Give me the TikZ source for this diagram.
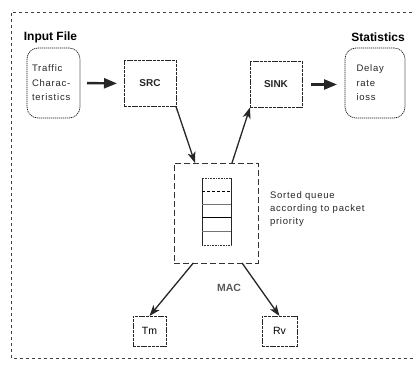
\documentclass[tikz,border=0pt]{standalone}
\usepackage{fontspec}
\setmainfont{Liberation Sans}
\usetikzlibrary{arrows.meta,calc}
\newfontfamily\smallfnt[LetterSpace=8]{Liberation Sans}
\begin{document}
\begin{tikzpicture}[x=1pt,y=-1pt,
  every node/.style={inner sep=0pt,outer sep=0pt},
  frame/.style={draw=black!75,line width=0.6pt,dash pattern=on 3pt off 3pt},
  plainbox/.style={draw=black!85,line width=0.7pt,dash pattern=on 3pt off 0.8pt,minimum width=52pt,minimum height=46pt,font=\bfseries\fontsize{10}{12}\selectfont,text=black!85},
  roundbox/.style={draw=black!90,line width=0.7pt,dash pattern=on 1.2pt off 0.8pt,rounded corners=11pt,align=left,font=\smallfnt\fontsize{9.5}{14.5}\selectfont,text=black!85},
  heading/.style={font=\bfseries\fontsize{12}{13}\selectfont},
  macbox/.style={draw=black!80,line width=0.7pt,dash pattern=on 6pt off 3pt},
  fatarrow/.style={line width=2.4pt,black!85,-{Triangle[length=13pt,width=10pt]}},
  thinarrow/.style={line width=1.3pt,black!85,-{Stealth[length=11pt,width=8pt,inset=3pt]}}
]
\useasboundingbox (0,0) rectangle (414,366);
% outer frame
\draw[frame] (418,12) -- (11,12) -- (11,358) -- (418,358);

% labels
\node[heading] (inlbl) at (50.5,37) {Input File};
\node[heading] (stlbl) at (378,37) {Statistics};

% rounded boxes
\node[roundbox,minimum width=53pt,minimum height=70pt,text width=43pt,inner xsep=5pt] (traffic) at (53.5,83) {Traffic\\Charac-\\teristics};
\node[roundbox,minimum width=60pt,minimum height=70pt,text width=37pt,inner xsep=11.5pt] (delay) at (375,83) {Delay\\rate\\ioss};

% SRC / SINK
\node[plainbox] (src) at (150,83.5) {SRC};
\node[plainbox] (sink) at (276,84.5) {SINK};

% MAC
\node[macbox,minimum width=84pt,minimum height=100pt] (mac) at (216,213) {};
\node[draw=black!80,line width=0.6pt,densely dotted,minimum width=29pt,minimum height=67pt] (queue) at (216.5,211.5) {};
\draw[black!85,line width=0.6pt] (queue.north west) -- (queue.south west) (queue.north east) -- (queue.south east);
\draw[black,line width=0.6pt,densely dashed] (202,191) -- (231,191);
\draw[black!55,line width=1pt] (202,204) -- (231,204);
\draw[black,line width=0.8pt] (202,217) -- (231,217);
\draw[black!55,line width=1pt] (202,231) -- (231,231);

\node[anchor=north west,align=left,font=\smallfnt\fontsize{9.5}{13}\selectfont,text=black!85] (sorted) at (270,192) {Sorted queue\\according to packet\\priority};

\node[font=\bfseries\fontsize{10.5}{12}\selectfont,text=black!65] (maclbl) at (229,288) {MAC};

% Tm / Rv
\node[plainbox,minimum width=33pt,minimum height=30pt,font=\fontsize{10.5}{12}\selectfont,text=black] (tm) at (149.5,331) {Tm};
\node[plainbox,minimum width=35pt,minimum height=30pt,font=\fontsize{10.5}{12}\selectfont,text=black] (rv) at (279.5,331) {Rv};

% arrows
\draw[fatarrow,shorten <=7pt,shorten >=7pt] (traffic.east) -- (src.west);
\draw[fatarrow,shorten <=9pt,shorten >=8pt] (sink.east) -- (sink.east -| delay.west);
\draw[thinarrow] (src.south east) -- ($(mac.north west)!0.25!(mac.north east)$);
\draw[thinarrow] ($(mac.north west)!0.69!(mac.north east)$) -- (sink.south west);
\draw[thinarrow] ($(mac.south west)!0.23!(mac.south east)$) -- (tm.north);
\draw[thinarrow] ($(mac.south west)!0.81!(mac.south east)$) -- (rv.north);
\end{tikzpicture}
\end{document}
